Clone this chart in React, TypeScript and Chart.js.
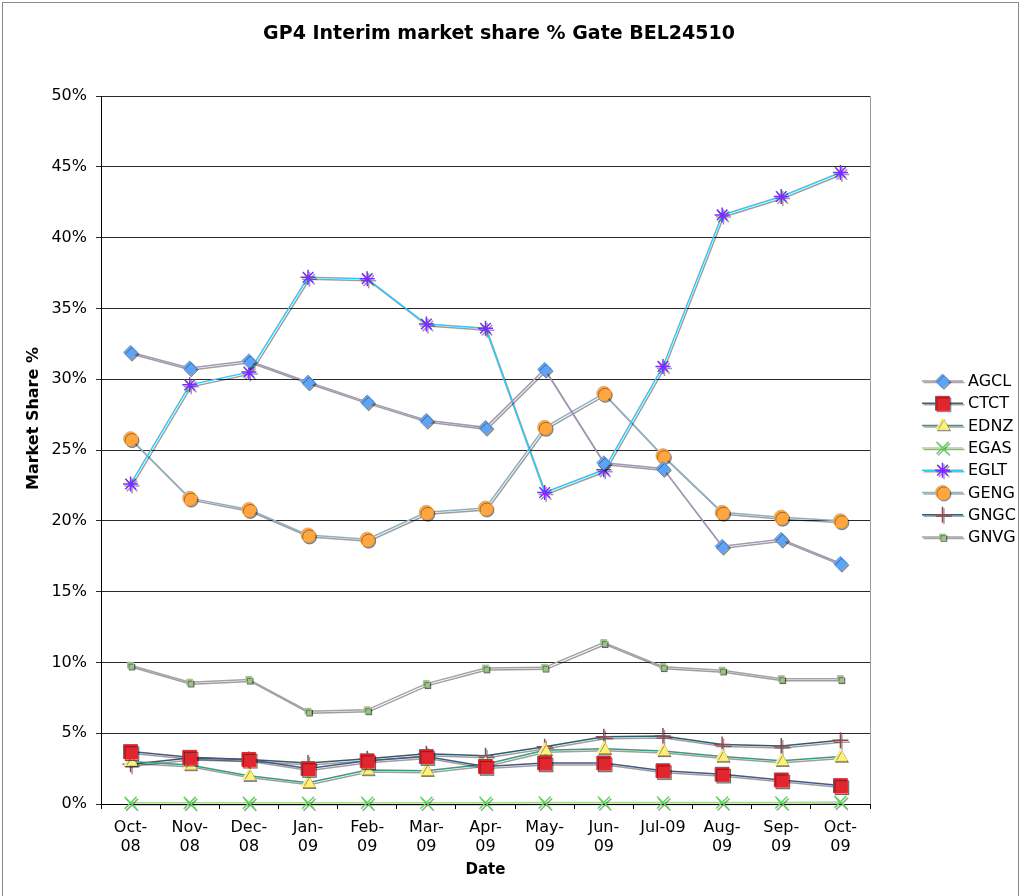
import React, { useEffect, useRef } from 'react';
import { Chart, registerables } from 'chart.js';
import { drawPoint } from 'chart.js/helpers';

Chart.register(...registerables);

const categories = ['Oct-08', 'Nov-08', 'Dec-08', 'Jan-09', 'Feb-09', 'Mar-09', 'Apr-09', 'May-09', 'Jun-09', 'Jul-09', 'Aug-09', 'Sep-09', 'Oct-09'];

const agcl = [31.9, 30.8, 31.3, 29.8, 28.4, 27.1, 26.6, 30.7, 24.1, 23.7, 18.2, 18.7, 17.0];
const ctct = [3.7, 3.3, 3.15, 2.5, 3.05, 3.35, 2.65, 2.9, 2.9, 2.35, 2.1, 1.7, 1.3];
const ednz = [3.0, 2.75, 2.0, 1.5, 2.4, 2.35, 2.8, 3.8, 3.9, 3.75, 3.35, 3.05, 3.35];
const egas = [0.08, 0.08, 0.08, 0.09, 0.09, 0.09, 0.09, 0.1, 0.1, 0.1, 0.1, 0.1, 0.15];
const eglt = [22.6, 29.6, 30.5, 37.2, 37.1, 33.9, 33.6, 22.0, 23.6, 30.9, 41.6, 42.9, 44.6];
const geng = [25.8, 21.6, 20.8, 19.0, 18.7, 20.6, 20.9, 26.6, 29.0, 24.6, 20.6, 20.25, 20.0];
const gngc = [2.8, 3.25, 3.15, 2.9, 3.2, 3.55, 3.4, 4.05, 4.75, 4.8, 4.2, 4.1, 4.5];
const gnvg = [9.8, 8.6, 8.8, 6.55, 6.65, 8.5, 9.6, 9.65, 11.4, 9.7, 9.45, 8.85, 8.85];

const yTicks = [0, 5, 10, 15, 20, 25, 30, 35, 40, 45, 50];

const titleText = 'GP4 Interim market share % Gate BEL24510';
const yTitleText = 'Market Share %';
const xTitleText = 'Date';
const FONT = "'DejaVu Sans', Verdana, sans-serif";

export default function App() {
  const ref = useRef<HTMLCanvasElement>(null);

  useEffect(() => {
    const canvas = ref.current;
    if (!canvas) return;

    const series = [
      { label: 'AGCL', data: agcl, line: '#a497b6', style: 'rectRot', fill: '#5ea3f5', stroke: '#5ea3f5', r: 7, bw: 1 },
      { label: 'CTCT', data: ctct, line: '#4a5682', style: 'rect', fill: '#e0262e', stroke: '#e0262e', r: 9.8, bw: 1 },
      { label: 'EDNZ', data: ednz, line: '#3a9a7e', style: 'triangle', fill: '#fff07e', stroke: '#fff07e', r: 7.5, bw: 1 },
      { label: 'EGAS', data: egas, line: '#a6d98e', style: 'crossRot', fill: '#55dd55', stroke: '#55dd55', r: 8.5, bw: 1.5 },
      { label: 'EGLT', data: eglt, line: '#33c8f5', style: 'star', fill: '#7a2cff', stroke: '#7a2cff', r: 7.5, bw: 1.5 },
      { label: 'GENG', data: geng, line: '#8fb0c2', style: 'circle', fill: '#ffa640', stroke: '#ffa640', r: 7, bw: 1 },
      { label: 'GNGC', data: gngc, line: '#2f5d6e', style: 'cross', fill: '#8c4a52', stroke: '#8c4a52', r: 8, bw: 1.5 },
      { label: 'GNVG', data: gnvg, line: '#a3a3a3', style: 'rect', fill: '#9cc48a', stroke: '#9cc48a', r: 4.2, bw: 1 },
    ];

    const labels = categories.map((c) => (c === 'Jul-09' ? c : [c.slice(0, 4), c.slice(4)]));

    const framePlugin = {
      id: 'frame',
      beforeDraw(chart: any) {
        const { ctx, chartArea } = chart;
        ctx.save();
        ctx.fillStyle = '#ffffff';
        ctx.fillRect(0, 0, chart.width, chart.height);
        ctx.strokeStyle = '#8a8a8a';
        ctx.lineWidth = 1;
        ctx.strokeRect(2.5, 2.5, chart.width - 5, chart.height + 10);
        ctx.strokeStyle = '#9a9a9a';
        ctx.strokeRect(Math.round(chartArea.left) + 0.5, Math.round(chartArea.top) + 0.5,
          Math.round(chartArea.right - chartArea.left), Math.round(chartArea.bottom - chartArea.top));
        ctx.restore();
      },
      afterDraw(chart: any) {
        const { ctx } = chart;
        ctx.save();
        ctx.fillStyle = '#000';
        ctx.font = `bold 19px ${FONT}`;
        ctx.textAlign = 'center';
        ctx.textBaseline = 'middle';
        ctx.fillText(titleText, 499, 34);

        // y axis title
        ctx.save();
        ctx.translate(34, 490);
        ctx.rotate(-Math.PI / 2);
        ctx.font = `bold 16px ${FONT}`;
        ctx.textAlign = 'left';
        ctx.textBaseline = 'middle';
        ctx.fillText(yTitleText, 0, 0);
        ctx.restore();

        // legend
        const x0 = 922, x1 = 963, xm = 942.5, xt = 968;
        chart.data.datasets.forEach((ds: any, i: number) => {
          const y = 381 + i * 22.3;
          ctx.save();
          ctx.shadowColor = 'rgba(0,0,0,0.35)';
          ctx.shadowOffsetX = 1.5;
          ctx.shadowOffsetY = 1.5;
          ctx.strokeStyle = ds.borderColor;
          ctx.lineWidth = 1.5;
          ctx.beginPath();
          ctx.moveTo(x0, y);
          ctx.lineTo(x1, y);
          ctx.stroke();
          ctx.fillStyle = ds.pointBackgroundColor;
          ctx.strokeStyle = ds.pointBorderColor;
          ctx.lineWidth = ds.pointBorderWidth;
          drawPoint(ctx, { pointStyle: ds.pointStyle, radius: ds.pointRadius, borderWidth: ds.pointBorderWidth, rotation: 0 } as any, xm, y);
          ctx.restore();
          ctx.fillStyle = '#000';
          ctx.font = `16px ${FONT}`;
          ctx.textAlign = 'left';
          ctx.textBaseline = 'middle';
          ctx.fillText(ds.label, xt, y + 1);
        });
        ctx.restore();
      },
      beforeDatasetsDraw(chart: any) {
        const { ctx } = chart;
        ctx.save();
        ctx.shadowColor = 'rgba(0,0,0,0.38)';
        ctx.shadowOffsetX = 1.5;
        ctx.shadowOffsetY = 2;
        ctx.shadowBlur = 0.5;
      },
      afterDatasetsDraw(chart: any) {
        chart.ctx.restore();
      },
    };

    const chart = new Chart(canvas, {
      type: 'line',
      data: {
        labels,
        datasets: series.map((s) => ({
          label: s.label,
          data: s.data,
          borderColor: s.line,
          backgroundColor: s.fill,
          borderWidth: 1.5,
          pointStyle: s.style as any,
          pointRadius: s.r,
          pointHoverRadius: s.r,
          pointBackgroundColor: s.fill,
          pointBorderColor: s.stroke,
          pointBorderWidth: s.bw,
          tension: 0,
          fill: false,
          clip: false as any,
        })),
      },
      options: {
        responsive: false,
        maintainAspectRatio: false,
        devicePixelRatio: 1,
        animation: false,
        layout: { padding: { top: 96, right: 151, left: 0, bottom: 0 } },
        plugins: {
          legend: { display: false },
          title: { display: false },
          tooltip: { enabled: false },
        },
        scales: {
          x: {
            type: 'category',
            offset: true,
            afterFit: (scale: any) => { scale.height = 92; },
            grid: { display: true, drawOnChartArea: false, drawTicks: true, tickLength: 5, color: '#000', offset: true },
            border: { display: true, color: '#000', width: 1 },
            ticks: { color: '#000', font: { family: FONT, size: 16 }, padding: 9, maxRotation: 0, autoSkip: false },
            title: { display: true, text: xTitleText, color: '#000', font: { family: FONT, size: 15, weight: 'bold' }, padding: { top: 0, bottom: 17 } },
          },
          y: {
            min: 0,
            max: 50,
            afterFit: (scale: any) => { scale.width = 101; },
            afterBuildTicks: (scale: any) => { scale.ticks = yTicks.map((v) => ({ value: v })); },
            grid: { display: true, color: '#2a2a2a', tickLength: 5, drawTicks: true },
            border: { display: true, color: '#000', width: 1 },
            ticks: { color: '#000', font: { family: FONT, size: 16 }, padding: 9, callback: (v: any) => `${v}%` },
            title: { display: false },
          },
        },
      },
      plugins: [framePlugin],
    });

    return () => chart.destroy();
  }, []);

  return (
    <div style={{ position: 'fixed', left: 0, top: 0, width: 1021, height: 896, background: '#fff' }}>
      <canvas ref={ref} width={1021} height={896} style={{ display: 'block', width: 1021, height: 896 }} />
    </div>
  );
}
